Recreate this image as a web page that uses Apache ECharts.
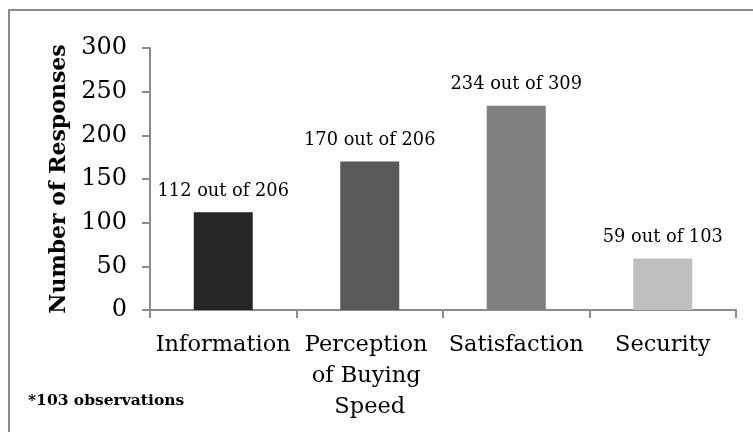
<!DOCTYPE html>
<html>
<head>
<meta charset="utf-8">
<script src="https://cdn.jsdelivr.net/npm/echarts@6/dist/echarts.min.js"></script>
<style>html,body{margin:0;padding:0;background:#fff}#c{width:753px;height:432px}</style>
</head>
<body>
<div id="c"></div>
<script>
const categories = ['Information', 'Perception of Buying Speed', 'Satisfaction', 'Security'];
const responses = [112, 170, 234, 59];
const totals = [206, 206, 309, 103];
const barColors = ['#262626', '#595959', '#7f7f7f', '#bfbfbf'];
const yTicks = { min: 0, max: 300, interval: 50 };

const FONT = '"DejaVu Serif", serif';
const axisGray = '#8c8c8c';

const chart = echarts.init(document.getElementById('c'), null, { renderer: 'canvas' });
chart.setOption({
  animation: false,
  backgroundColor: '#fff',
  grid: { left: 150, right: 17, top: 48, bottom: 122, containLabel: false },
  xAxis: {
    type: 'category',
    data: categories,
    axisLine: { lineStyle: { color: axisGray, width: 2 } },
    axisTick: { show: true, length: 8, lineStyle: { color: axisGray, width: 2 } },
    axisLabel: {
      interval: 0,
      margin: 20,
      color: '#000',
      fontFamily: FONT,
      fontSize: 22.5,
      lineHeight: 31,
      width: 142,
      overflow: 'break'
    }
  },
  yAxis: {
    type: 'value',
    min: yTicks.min, max: yTicks.max, interval: yTicks.interval,
    name: 'Number of Responses',
    nameLocation: 'middle',
    nameGap: 77,
    nameRotate: 90,
    nameTextStyle: { color: '#000', fontFamily: FONT, fontWeight: 'bold', fontSize: 22 },
    axisLine: { show: true, lineStyle: { color: axisGray, width: 2 } },
    axisTick: { show: true, length: 8, lineStyle: { color: axisGray, width: 2 } },
    axisLabel: { margin: 23, color: '#000', fontFamily: FONT, fontSize: 24 },
    splitLine: { show: false }
  },
  series: [{
    type: 'bar',
    data: responses.map((v, i) => ({ value: v, itemStyle: { color: barColors[i] } })),
    barWidth: 59,
    label: {
      show: true,
      position: 'top',
      distance: 12,
      color: '#000',
      fontFamily: FONT,
      fontSize: 17.8,
      formatter: p => p.value + ' out of ' + totals[p.dataIndex]
    }
  }],
  graphic: [
    {
      type: 'polyline',
      shape: { points: [[9, 432], [9, 10], [753, 10]] },
      style: { stroke: axisGray, lineWidth: 2, fill: null }
    },
    {
      type: 'text',
      left: 28,
      top: 393,
      style: { text: '*103 observations', fill: '#000', font: 'bold 15.5px "DejaVu Serif", serif' }
    }
  ]
});
</script>
</body>
</html>
